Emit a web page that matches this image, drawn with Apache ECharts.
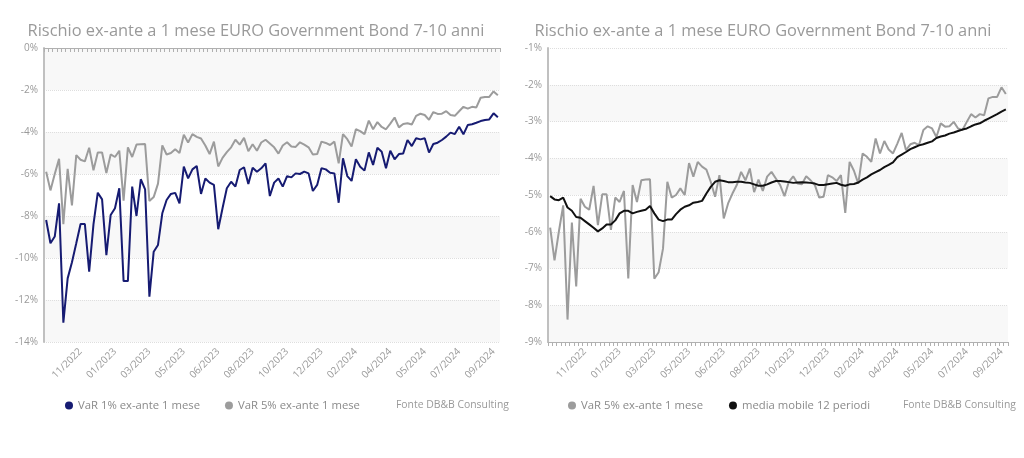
<!DOCTYPE html>
<html><head><meta charset="utf-8">
<script src="https://cdn.jsdelivr.net/npm/echarts@6/dist/echarts.min.js"></script>
<style>html,body{margin:0;padding:0;background:#fff}#c{width:1024px;height:458px}</style>
</head><body><div id="c"></div>
<script>
// weekly observation dates
const dates = [
'2022-09-23','2022-09-30','2022-10-07','2022-10-14','2022-10-21','2022-10-28','2022-11-04','2022-11-11','2022-11-18','2022-11-25',
'2022-12-02','2022-12-09','2022-12-16','2022-12-23','2022-12-30','2023-01-06','2023-01-13','2023-01-20','2023-01-27','2023-02-03',
'2023-02-10','2023-02-17','2023-02-24','2023-03-03','2023-03-10','2023-03-17','2023-03-24','2023-03-31','2023-04-07','2023-04-14',
'2023-04-21','2023-04-28','2023-05-05','2023-05-12','2023-05-19','2023-05-26','2023-06-02','2023-06-09','2023-06-16','2023-06-23',
'2023-06-30','2023-07-07','2023-07-14','2023-07-21','2023-07-28','2023-08-04','2023-08-11','2023-08-18','2023-08-25','2023-09-01',
'2023-09-08','2023-09-15','2023-09-22','2023-09-29','2023-10-06','2023-10-13','2023-10-20','2023-10-27','2023-11-03','2023-11-10',
'2023-11-17','2023-11-24','2023-12-01','2023-12-08','2023-12-15','2023-12-22','2023-12-29','2024-01-05','2024-01-12','2024-01-19',
'2024-01-26','2024-02-02','2024-02-09','2024-02-16','2024-02-23','2024-03-01','2024-03-08','2024-03-15','2024-03-22','2024-03-29',
'2024-04-05','2024-04-12','2024-04-19','2024-04-26','2024-05-03','2024-05-10','2024-05-17','2024-05-24','2024-05-31','2024-06-07',
'2024-06-14','2024-06-21','2024-06-28','2024-07-05','2024-07-12','2024-07-19','2024-07-26','2024-08-02','2024-08-09','2024-08-16',
'2024-08-23','2024-08-30','2024-09-06','2024-09-13','2024-09-20','2024-09-27'];

// VaR 1% ex-ante 1 mese (%)
const var1 = [
-8.19,-9.30,-8.98,-7.40,-13.08,-10.97,-10.20,-9.30,-8.38,-8.38,
-10.65,-8.40,-6.89,-7.21,-9.86,-7.95,-7.63,-6.68,-11.10,-11.10,
-6.60,-8.00,-6.25,-6.73,-11.84,-9.70,-9.38,-7.87,-7.24,-6.95,
-6.90,-7.40,-5.65,-6.21,-5.78,-5.62,-6.95,-6.21,-6.41,-6.52,
-8.63,-7.63,-6.68,-6.37,-6.60,-5.81,-5.68,-6.48,-5.70,-5.89,
-5.73,-5.49,-7.05,-6.41,-6.21,-6.60,-6.10,-6.16,-5.97,-6.00,
-5.89,-5.97,-6.81,-6.52,-5.73,-5.78,-5.94,-5.97,-7.37,-5.25,
-6.10,-6.33,-5.30,-5.65,-5.84,-4.97,-5.57,-4.75,-4.94,-5.73,
-4.89,-5.30,-5.05,-5.02,-4.38,-4.67,-4.30,-4.35,-4.30,-4.98,
-4.57,-4.51,-4.38,-4.22,-4.03,-4.10,-3.75,-4.11,-3.67,-3.63,
-3.56,-3.48,-3.43,-3.40,-3.11,-3.30];

// VaR 5% ex-ante 1 mese (%)
const var5 = [
-5.89,-6.78,-6.00,-5.28,-8.39,-5.75,-7.49,-5.10,-5.32,-5.40,
-4.75,-5.82,-4.98,-4.98,-5.95,-5.07,-5.19,-4.89,-7.27,-4.73,
-5.19,-4.60,-4.58,-4.57,-7.28,-7.10,-6.46,-4.64,-5.07,-5.00,
-4.82,-5.00,-4.13,-4.50,-4.10,-4.23,-4.31,-4.64,-5.05,-4.46,
-5.64,-5.23,-4.96,-4.73,-4.37,-4.60,-4.28,-4.92,-4.58,-4.89,
-4.50,-4.37,-4.55,-4.73,-5.03,-4.64,-4.49,-4.69,-4.71,-4.49,
-4.60,-4.73,-5.07,-5.05,-4.46,-4.52,-4.62,-4.46,-5.49,-4.10,
-4.34,-4.69,-3.87,-3.96,-4.10,-3.46,-3.87,-3.53,-3.76,-3.87,
-3.60,-3.31,-3.78,-3.62,-3.58,-3.64,-3.23,-3.13,-3.19,-3.42,
-3.05,-3.14,-3.13,-3.01,-3.19,-3.23,-3.01,-2.80,-2.89,-2.80,
-2.83,-2.37,-2.33,-2.33,-2.07,-2.25];

// media mobile 12 periodi (%)
const ma12 = [
-5.03,-5.12,-5.14,-5.07,-5.34,-5.43,-5.60,-5.62,-5.71,-5.80,
-5.89,-5.99,-5.91,-5.80,-5.80,-5.69,-5.50,-5.43,-5.43,-5.50,
-5.46,-5.43,-5.40,-5.30,-5.50,-5.67,-5.71,-5.67,-5.67,-5.52,
-5.40,-5.32,-5.28,-5.21,-5.19,-5.16,-4.96,-4.78,-4.64,-4.60,
-4.62,-4.65,-4.65,-4.64,-4.64,-4.66,-4.67,-4.71,-4.75,-4.75,
-4.71,-4.66,-4.62,-4.62,-4.63,-4.65,-4.67,-4.66,-4.65,-4.66,
-4.67,-4.69,-4.73,-4.73,-4.71,-4.69,-4.67,-4.72,-4.75,-4.71,
-4.70,-4.66,-4.58,-4.52,-4.44,-4.38,-4.32,-4.24,-4.18,-4.11,
-3.97,-3.90,-3.83,-3.75,-3.70,-3.65,-3.62,-3.58,-3.54,-3.45,
-3.41,-3.38,-3.33,-3.30,-3.26,-3.22,-3.19,-3.13,-3.08,-3.05,
-2.98,-2.92,-2.86,-2.80,-2.73,-2.67];

const titleText = 'Rischio ex-ante a 1 mese EURO Government Bond 7-10 anni';
const sourceText = 'Fonte DB&B Consulting';
const nameVar1 = 'VaR 1% ex-ante 1 mese';
const nameVar5 = 'VaR 5% ex-ante 1 mese';
const nameMa = 'media mobile 12 periodi';

const FONT = 'Open Sans';
const chart = echarts.init(document.getElementById('c'), null, {renderer: 'canvas'});

function xAxisCfg(gi) {
  return {
    type: 'category', gridIndex: gi, data: dates, boundaryGap: true,
    axisLine: {show: true, lineStyle: {color: '#b0b0b0', width: 1}},
    axisTick: {show: true, interval: 0, length: 4, lineStyle: {color: '#b0b0b0'}},
    axisLabel: {
      interval: (i) => i > 0 && i % 8 === 0,
      rotate: 45, color: '#9a9a9a', fontSize: 10, fontFamily: FONT, margin: 8,
      formatter: (v) => v.slice(5, 7) + '/' + v.slice(0, 4)
    },
    splitLine: {show: false}
  };
}
function yAxisCfg(gi, min, max, interval) {
  return {
    type: 'value', gridIndex: gi, min: min, max: max, interval: interval,
    axisLine: {show: true, lineStyle: {color: '#c0c0c0', width: 2}},
    axisTick: {show: false},
    axisLabel: {color: '#9a9a9a', fontSize: 10, fontFamily: FONT, margin: 6, formatter: (v) => v + '%'},
    splitLine: {show: true, lineStyle: {color: '#dedede', type: 'dotted', width: 1}},
    splitArea: {show: true, areaStyle: {color: ['#f8f8f8', '#ffffff']}}
  };
}

const legendText = {color: '#8a8a8a', fontSize: 11.3, fontFamily: FONT};
const titleStyle = {color: '#9a9a9a', fontSize: 16.4, fontWeight: 'normal', fontFamily: FONT};

chart.setOption({
  animation: false,
  backgroundColor: '#ffffff',
  title: [
    {text: titleText, left: 251, top: 18, textAlign: 'center', textStyle: titleStyle},
    {text: titleText, left: 758, top: 18, textAlign: 'center', textStyle: titleStyle}
  ],
  legend: [
    {data: [nameVar1, nameVar5], left: 60, top: 395, icon: 'circle', itemWidth: 8, itemHeight: 8, itemGap: 25,
     textStyle: legendText},
    {data: [nameVar5, nameMa], left: 563, top: 395, icon: 'circle', itemWidth: 8, itemHeight: 8, itemGap: 26,
     textStyle: legendText}
  ],
  graphic: [
    {type: 'text', left: 396, top: 400, style: {text: sourceText, fill: '#9a9a9a', font: '10.4px "' + FONT + '"'}},
    {type: 'text', left: 903, top: 400, style: {text: sourceText, fill: '#9a9a9a', font: '10.4px "' + FONT + '"'}}
  ],
  grid: [
    {left: 44, top: 48, width: 456, height: 294},
    {left: 548, top: 48, width: 460, height: 294}
  ],
  xAxis: [xAxisCfg(0), xAxisCfg(1)],
  yAxis: [yAxisCfg(0, -14, 0, 2), yAxisCfg(1, -9, -1, 1)],
  series: [
    {name: nameVar1, type: 'line', xAxisIndex: 0, yAxisIndex: 0, data: var1, symbol: 'none',
     itemStyle: {color: '#161b72'}, lineStyle: {color: '#161b72', width: 2}},
    {name: nameVar5, type: 'line', xAxisIndex: 0, yAxisIndex: 0, data: var5, symbol: 'none',
     itemStyle: {color: '#9c9c9c'}, lineStyle: {color: '#9c9c9c', width: 2}},
    {name: nameVar5, type: 'line', xAxisIndex: 1, yAxisIndex: 1, data: var5, symbol: 'none',
     itemStyle: {color: '#9c9c9c'}, lineStyle: {color: '#9c9c9c', width: 2}},
    {name: nameMa, type: 'line', xAxisIndex: 1, yAxisIndex: 1, data: ma12, symbol: 'none',
     itemStyle: {color: '#111111'}, lineStyle: {color: '#111111', width: 2}}
  ]
});
</script>
</body></html>
